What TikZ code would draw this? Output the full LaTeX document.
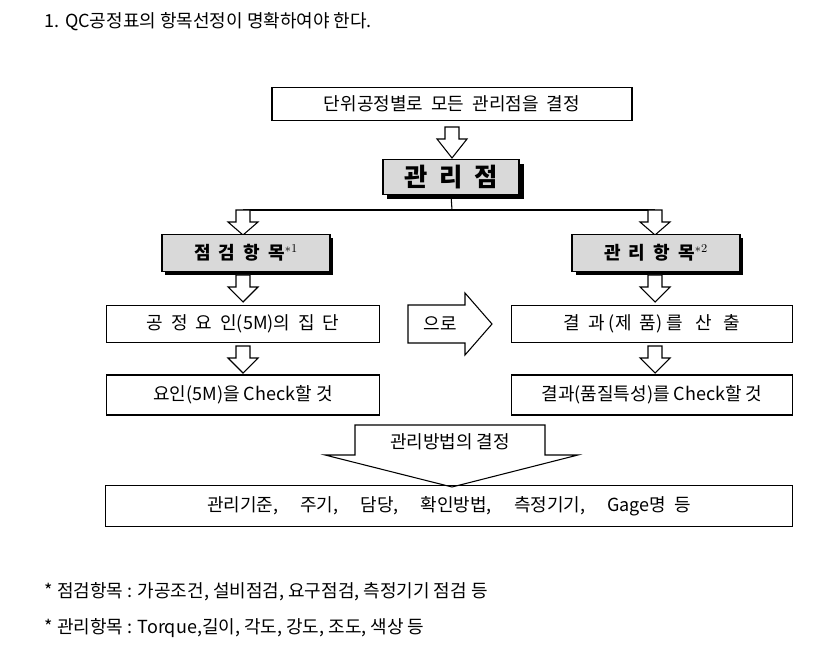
\documentclass[tikz,border=0pt]{standalone}
\usepackage{fontspec}
\setmainfont{Liberation Serif}
\newfontfamily\kr{Noto Sans CJK KR}
\usepackage{tikz}
\usetikzlibrary{positioning}
\newcommand{\hdown}[3]{% x, top, bottom
  \draw[thick, fill=white] (#1-7,#2) -- (#1+7,#2) -- (#1+7,#2+12) -- (#1+15,#2+12)
    -- (#1,#3) -- (#1-15,#2+12) -- (#1-7,#2+12) -- cycle;}
\begin{document}
\begin{tikzpicture}[x=0.75pt, y=-0.75pt,
    box/.style={rectangle, draw, thick, inner sep=0pt, font=\kr\fontsize{13.5}{16}\selectfont},
    graybox/.style={box, fill=gray!30, font=\kr\bfseries\fontsize{13.5}{16}\selectfont},
    note/.style={anchor=west, font=\kr\fontsize{13.5}{16}\selectfont}
]
\useasboundingbox[fill=white] (0,0) rectangle (827,666);

\node[note] (title) at (40,22) {1. QC공정표의 항목선정이 명확하여야 한다.};

\node[box, minimum width=270pt, minimum height=25pt] (all) at (452,104) {단위공정별로 \ 모든 \ 관리점을 \ 결정};
\hdown{452}{127}{158}
\fill[black] (387,164) rectangle (524,199);
\node[graybox, minimum width=102pt, minimum height=26pt, font=\kr\bfseries\fontsize{19}{22}\selectfont] (kp) at (451,177) {관 \ 리 \ 점};

\coordinate (split) at (452,210);
\draw[thick] (kp.south) -- (split);
\draw[thick] (243,210) -- (655,210);
\hdown{243}{210}{235}
\hdown{655}{210}{235}

\fill[black] (165,238) rectangle (333,275);
\node[graybox, minimum width=126pt, minimum height=28pt] (chk) at (246,253) {점 \ 검 \ 항 \ 목$^{*1}$};
\fill[black] (576,238) rectangle (743,275);
\node[graybox, minimum width=126pt, minimum height=28pt] (ctl) at (656,253) {관 \ 리 \ 항 \ 목$^{*2}$};

\hdown{243}{275}{302}
\hdown{655}{275}{302}

\node[box, minimum width=205pt, minimum height=28pt] (cause) at (243,324) {공 \ 정 \ 요 \ 인(5M)의 \ 집 \ 단};
\node[box, minimum width=211pt, minimum height=28pt] (result) at (652,324) {결 \ 과 (제 \ 품) 를 \ \ 산 \ \ 출};

\draw[thick, fill=white] (408,305) -- (465,305) -- (465,293) -- (492,324) -- (465,355)
  -- (465,343) -- (408,343) -- cycle;
\node[font=\kr\fontsize{13.5}{16}\selectfont] (by) at (440,324) {으로};

\hdown{243}{346}{373}
\hdown{655}{346}{373}

\node[box, minimum width=205pt, minimum height=30pt] (chk2) at (243,395) {요인(5M)을 Check할 것};
\node[box, minimum width=211pt, minimum height=30pt] (ctl2) at (652,395) {결과(품질특성)를 Check할 것};

\draw[thick, fill=white] (355,425) -- (545,425) -- (545,455) -- (578,455) -- (452,487)
  -- (325,455) -- (355,455) -- cycle;
\node[font=\kr\fontsize{13.5}{16}\selectfont] (how) at (450,442) {관리방법의 결정};

\node[box, minimum width=515pt, minimum height=31pt] (items) at (449,506)
  {관리기준, \quad 주기, \quad 담당, \quad 확인방법, \quad 측정기기, \quad Gage명 \ 등};

\node[note] (n1) at (40,592) {* 점검항목 : 가공조건, 설비점검, 요구점검, 측정기기 점검 등};
\node[note] (n2) at (40,628) {* 관리항목 : Torque,길이, 각도, 강도, 조도, 색상 등};
\end{tikzpicture}
\end{document}
